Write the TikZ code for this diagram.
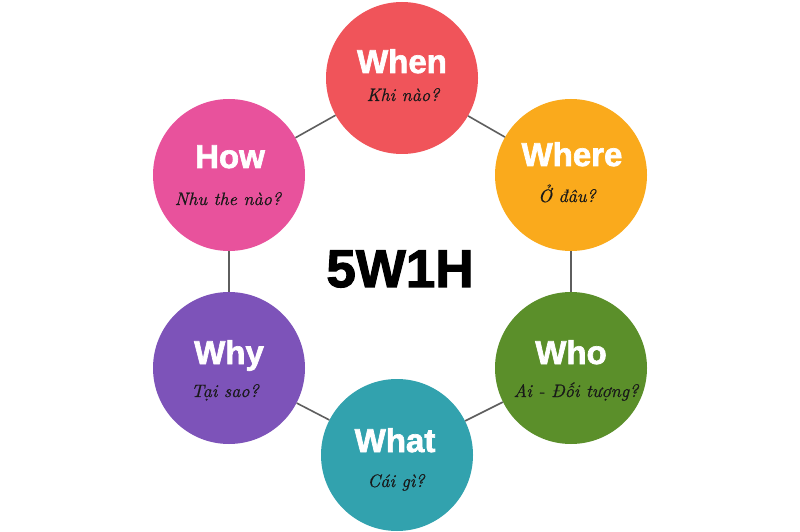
\documentclass[tikz,border=0pt]{standalone}
\usepackage{fontspec}
\newfontfamily\heavy[FakeBold=2]{Liberation Sans Bold}
\newfontfamily\subf{lmroman10-italic.otf}[FakeBold=0.6]
\definecolor{cWhen}{HTML}{F0545A}
\definecolor{cWhere}{HTML}{FAAA1C}
\definecolor{cWho}{HTML}{5B8F2A}
\definecolor{cWhat}{HTML}{32A2AE}
\definecolor{cWhy}{HTML}{7D53B9}
\definecolor{cHow}{HTML}{E8529C}
\definecolor{lineg}{HTML}{5E5E5E}
\begin{document}
\begin{tikzpicture}[x=1bp,y=-1bp,
  circ/.style={circle, minimum size=152bp, inner sep=0pt, draw=none},
  ttl/.style={anchor=base, text=white, font=\heavy\fontsize{33bp}{33bp}\selectfont, inner sep=0pt},
  sub/.style={anchor=base, text=black!90, font=\subf\fontsize{18bp}{18bp}\selectfont, inner sep=0pt},
  conn/.style={draw=lineg, line width=1.6bp}]
\useasboundingbox[fill=white] (0,0) rectangle (800,532);
\node[circ, fill=cWhen]  (when)  at (402,78)  {};
\node[circ, fill=cWhere] (where) at (571,175) {};
\node[circ, fill=cWho]   (who)   at (571,368) {};
\node[circ, fill=cWhat]  (what)  at (397,455) {};
\node[circ, fill=cWhy]   (why)   at (229,368) {};
\node[circ, fill=cHow]   (how)   at (229,175) {};
\draw[conn] (when) -- (where);
\draw[conn] (where) -- (who);
\draw[conn] (who) -- (what);
\draw[conn] (what) -- (why);
\draw[conn] (why) -- (how);
\draw[conn] (how) -- (when);
\node[ttl] (tWhen)  at (402,73)  {When};
\node[ttl] (tWhere) at (572,166) {Where};
\node[ttl] (tWho)   at (571,364) {Who};
\node[ttl] (tWhat)  at (395,452) {What};
\node[ttl] (tWhy)   at (229,364) {Why};
\node[ttl] (tHow)   at (230,168) {How};
\node[sub] (sWhen)  at (403,101) {Khi nào?};
\node[sub] (sWhere) at (567,202) {Ở đâu?};
\node[sub] (sWho)   at (576,397) {Ai - Đối tượng?};
\node[sub] (sWhat)  at (396,487) {Cái gì?};
\node[sub] (sWhy)   at (225,397) {Tại sao?};
\node[sub] (sHow)   at (228,205) {Nhu the nào?};
\node[anchor=base, inner sep=0pt, text=black, font=\heavy\fontsize{53bp}{53bp}\selectfont] (main) at (400,287) {5W1H};
\end{tikzpicture}
\end{document}
